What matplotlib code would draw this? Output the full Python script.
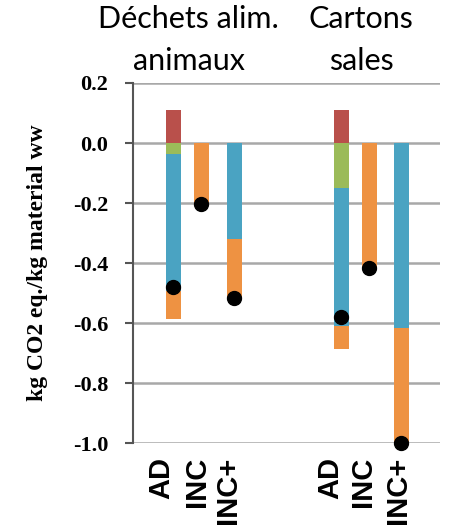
import numpy as np
import matplotlib
matplotlib.use("Agg")
import matplotlib.pyplot as plt

COLOR_RED = "#B9504B"
COLOR_GREEN = "#9BBB59"
COLOR_BLUE = "#4AA3C2"
COLOR_ORANGE = "#EE9242"
COLOR_GRID = "#A8A8A8"

# data (kg CO2 eq./kg material ww)
scenarios = ["AD", "INC", "INC+", "AD", "INC", "INC+"]
groups = [["Déchets alim.", "animaux"], ["Cartons", "sales"]]
red_vals = [0.11, 0.0, 0.0, 0.11, 0.0, 0.0]
green_vals = [-0.037, 0.0, 0.0, -0.15, 0.0, 0.0]
blue_vals = [-0.455, 0.0, -0.32, -0.46, 0.0, -0.615]
orange_vals = [-0.095, -0.203, -0.197, -0.075, -0.415, -0.385]
net_vals = [-0.48, -0.203, -0.515, -0.58, -0.415, -1.0]
yticks = [-1.0, -0.8, -0.6, -0.4, -0.2, 0.0, 0.2]

xpos = np.array([1.33, 2.27, 3.37, 6.93, 7.87, 8.93])
label_pos = np.array([0.95, 2.13, 3.17, 6.57, 7.67, 8.83])
width = 0.5

fig = plt.figure(figsize=(4.5, 5.32), dpi=100)
ax = fig.add_axes([0.296, 0.167, 0.682, 0.677])

ax.bar(xpos, red_vals, width, color=COLOR_RED, zorder=3)
bottom = np.zeros(len(xpos))
for vals, col in [(green_vals, COLOR_GREEN), (blue_vals, COLOR_BLUE), (orange_vals, COLOR_ORANGE)]:
    ax.bar(xpos, vals, width, bottom=bottom, color=col, zorder=3)
    bottom = bottom + np.array(vals)
ax.plot(xpos, net_vals, "o", color="black", ms=10, zorder=4, clip_on=False)

ax.set_xlim(0, 10.23)
ax.set_ylim(-1.0, 0.2)
ax.set_yticks(yticks)
ax.set_yticklabels([f"{v:.1f}" if v != 0 else "0.0" for v in yticks],
                   family="Liberation Serif", fontweight="bold", fontsize=16)
ax.yaxis.grid(True, color=COLOR_GRID, linewidth=1.8)
ax.set_axisbelow(True)
for s in ["top", "right", "bottom"]:
    ax.spines[s].set_visible(False)
ax.spines["left"].set_color("#555555")
ax.spines["left"].set_linewidth(1.5)
ax.tick_params(axis="y", length=6, width=1.5, color="#555555", pad=12)
ax.tick_params(axis="x", length=0, pad=10)

ax.set_xticks(label_pos)
ax.set_xticklabels(scenarios, rotation=90, family="Liberation Sans",
                   fontweight="bold", fontsize=21, va="top")

ax.set_ylabel("kg CO2 eq./kg material ww", family="Liberation Serif",
              fontweight="bold", fontsize=17, labelpad=18)

# group titles, one line each (baselines in pixels above the 0.2 line)
for gx, lines in zip([1.85, 7.6], groups):
    for i, line in enumerate(lines):
        ax.annotate(line, xy=(gx, 0.2), xycoords="data",
                    xytext=(0, 55 - 42 * i), textcoords="offset pixels",
                    ha="center", va="baseline", family="Lato", fontsize=22)

fig.savefig("out.png", dpi=100)
